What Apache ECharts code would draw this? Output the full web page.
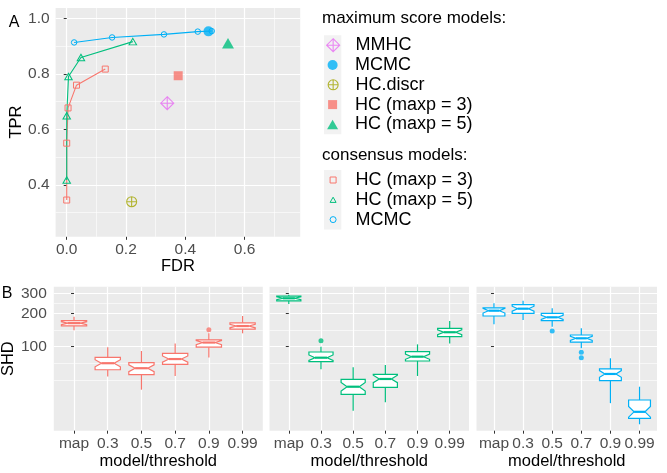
<!DOCTYPE html>
<html><head><meta charset="utf-8">
<script src="https://cdn.jsdelivr.net/npm/echarts@6/dist/echarts.min.js"></script>
<style>html,body{margin:0;padding:0;background:#fff}#c{width:667px;height:473px}</style>
</head><body><div id="c"></div>
<script>
// ---------- Panel A data ----------
const maxNames = ['MMHC', 'MCMC', 'HC.discr', 'HC (maxp = 3)', 'HC (maxp = 5)'];
const maxFDR = [0.339, 0.478, 0.219, 0.376, 0.544];
const maxTPR = [0.694, 0.953, 0.339, 0.793, 0.910];

const consNames = ['HC (maxp = 3)', 'HC (maxp = 5)', 'MCMC'];
const consHC3_FDR = [0, 0, 0.0045, 0.033, 0.130];
const consHC3_TPR = [0.345, 0.550, 0.677, 0.759, 0.817];
const consHC5_FDR = [0, 0, 0.006, 0.048, 0.223];
const consHC5_TPR = [0.417, 0.649, 0.790, 0.859, 0.916];
const consMCMC_FDR = [0.025, 0.153, 0.328, 0.442, 0.489];
const consMCMC_TPR = [0.913, 0.931, 0.942, 0.952, 0.954];

const xTicksA = [0, 0.2, 0.4, 0.6];
const xMinorA = [0.1, 0.3, 0.5, 0.7];
const yTicksA = [0.4, 0.6, 0.8, 1.0];
const yMinorA = [0.3, 0.5, 0.7, 0.9];

// ---------- Panel B data (SHD, log scale) ----------
const thresholds = ['map', '0.3', '0.5', '0.7', '0.9', '0.99'];
// each box: [lower whisker, Q1, median, Q3, upper whisker]
const boxHC3 = [[141,154,163,172,186],[54,62,71,80,99],[41,56,64,72,91.5],[54.5,69.4,77.4,87.2,107],[80,99,109,115,132],[132,144,153.5,164,189]];
const notchHC3 = [[158,168],[66,76.3],[59.6,68.7],[72.5,82.6],[104.5,113.7],[147.9,159.3]];
const outHC3 = [[4,142]];
const boxHC5 = [[242,259,273,286,294],[62.5,73.3,79.6,89.6,100],[26.5,37.2,43.6,50.8,65.2],[31.6,43.0,51.2,56.4,68.4],[54.5,74.3,81.3,90.1,105],[107,123,135,146.5,170]];
const notchHC5 = [[265.3,281],[75.2,84.3],[39.9,47.7],[47.4,55.3],[77,85.9],[128.4,141.9]];
const outHC5 = [[1,113]];
const boxMCMC = [[159,189,211,224,246],[174,200,220,239,259.5],[151,172,184,200,222],[97,110,119,127.4,146.5],[31,49.4,56.8,63,78.6],[20,22.6,25.9,33.1,43.6]];
const notchMCMC = [[201,221.5],[209,231.5],[176.3,192],[114.1,124.1],[53,60.9],[23.2,28.9]];
const outMCMC = [[2,138.5],[3,89],[3,79.6]];
const yTicksB = [100, 200, 300];
const yMinorB = [50, 70.7, 141.4, 245];

// ---------- styling ----------
const FONT = "'Liberation Sans', Arial, Helvetica, sans-serif";
const COL = {'MMHC':'#E76BF3','MCMC':'#00B0F6','HC.discr':'#A3A500','HC (maxp = 3)':'#F8766D','HC (maxp = 5)':'#00BF7D'};
const PANEL = '#EBEBEB';
const TICKCOL = '#333333';
const LABCOL = '#4D4D4D';
const diamondPlus = 'path://M0,-10L10,0L0,10L-10,0Z M0,-10L0,10 M-10,0L10,0';
const circlePlus = 'path://M-10,0A10,10 0 1,1 10,0A10,10 0 1,1 -10,0Z M-10,0L10,0 M0,-10L0,10';
const squareP = 'path://M0,0L10,0L10,10L0,10Z';
const triP = 'path://M5,0L10,8.66L0,8.66Z';
const circP = 'path://M-10,0A10,10 0 1,1 10,0A10,10 0 1,1 -10,0Z';
// [symbol, chart size, open?, legend size]
const maxSymbols = {'MMHC':[diamondPlus,[13,13],true,13],'MCMC':[circP,[10,10],false,10],'HC.discr':[circlePlus,[10,10],true,10],
  'HC (maxp = 3)':[squareP,[9,9],false,9],'HC (maxp = 5)':[triP,[12,10.4],false,11]};
const consSymbols = [[squareP,[6,6]],[triP,[7.5,6.5]],[circP,[5.5,5.5]]];
const consIds = ['cons_HC3','cons_HC5','cons_MCMC'];
const consData = [[consHC3_FDR,consHC3_TPR],[consHC5_FDR,consHC5_TPR],[consMCMC_FDR,consMCMC_TPR]];

const grids = [
  {left:55.6, top:7.9, width:244.6, height:228.9},
  {left:53.8, top:286.7, width:209, height:144},
  {left:269.5, top:286.7, width:199.5, height:144},
  {left:476.5, top:286.7, width:180.5, height:144}
].map(g => Object.assign({show:true, backgroundColor:PANEL, borderWidth:0, containLabel:false}, g));

const xAxes = [], yAxes = [], series = [];

// Panel A axes
xAxes.push({gridIndex:0, type:'value', min:-0.0375, max:0.7875, axisLine:{show:false},
  axisTick:{show:true, customValues:xTicksA, length:3, lineStyle:{color:TICKCOL, width:1}},
  axisLabel:{customValues:xTicksA, color:LABCOL, fontSize:15.5, fontFamily:FONT, margin:4.5, formatter:v=>v.toFixed(1)},
  splitLine:{show:true, lineStyle:{color:'#fff', width:1.2}}});
xAxes.push({gridIndex:0, type:'value', min:-0.0375, max:0.7875, axisLine:{show:false},
  axisTick:{show:false, customValues:xMinorA}, axisLabel:{show:false},
  splitLine:{show:true, lineStyle:{color:'#fff', width:0.6}}});
yAxes.push({gridIndex:0, type:'value', min:0.2125, max:1.0375, axisLine:{show:false},
  axisTick:{show:true, customValues:yTicksA, length:3, lineStyle:{color:TICKCOL, width:1}},
  axisLabel:{customValues:yTicksA, color:LABCOL, fontSize:15.5, fontFamily:FONT, margin:6, formatter:v=>v.toFixed(1)},
  splitLine:{show:true, lineStyle:{color:'#fff', width:1.2}}});
yAxes.push({gridIndex:0, type:'value', min:0.2125, max:1.0375, axisLine:{show:false},
  axisTick:{show:false, customValues:yMinorA}, axisLabel:{show:false},
  splitLine:{show:true, lineStyle:{color:'#fff', width:0.6}}});

// Panel A series: consensus lines
consIds.forEach((id, k) => {
  const c = COL[consNames[k]];
  const d = consData[k][0].map((x, i) => [x, consData[k][1][i]]);
  series.push({type:'line', name:id, xAxisIndex:0, yAxisIndex:0, data:d,
    symbol:consSymbols[k][0], symbolSize:consSymbols[k][1], showAllSymbol:true,
    lineStyle:{color:c, width:1.1}, itemStyle:{color:'rgba(0,0,0,0)', borderColor:c, borderWidth:1},
    emphasis:{disabled:true}, z:3});
});
// Panel A series: maximum score models
maxNames.forEach((n, i) => {
  const c = COL[n], s = maxSymbols[n];
  series.push({type:'scatter', name:n, xAxisIndex:0, yAxisIndex:0, data:[[maxFDR[i], maxTPR[i]]],
    symbol:s[0], symbolSize:s[1],
    itemStyle: s[2] ? {color:'rgba(0,0,0,0)', borderColor:c, borderWidth:1.1} : {color:c},
    emphasis:{disabled:true}, z:4});
});

// Panel B
const facetBoxes = [boxHC3, boxHC5, boxMCMC];
const facetNotch = [notchHC3, notchHC5, notchMCMC];
const facetOut = [outHC3, outHC5, outMCMC];
const facetCol = [COL['HC (maxp = 3)'], COL['HC (maxp = 5)'], COL['MCMC']];
const xIdx = thresholds.map((t, i) => i);

function renderBox(color) {
  return function (params, api) {
    const x = api.value(0);
    const lo = api.value(1), q1 = api.value(2), md = api.value(3), q3 = api.value(4), hi = api.value(5);
    const nl = api.value(6), nh = api.value(7);
    const pL = api.coord([x - 0.375, md]), pR = api.coord([x + 0.375, md]);
    const cx = (pL[0] + pR[0]) / 2, w = (pR[0] - pL[0]) / 2;
    const y = v => api.coord([x, v])[1];
    const yq1 = y(q1), yq3 = y(q3), ymd = y(md), ynl = y(nl), ynh = y(nh), ylo = y(lo), yhi = y(hi);
    const pts = [[cx-w,yq3],[cx+w,yq3],[cx+w,ynh],[cx+w/2,ymd],[cx+w,ynl],[cx+w,yq1],[cx-w,yq1],[cx-w,ynl],[cx-w/2,ymd],[cx-w,ynh]];
    return {type:'group', children:[
      {type:'line', shape:{x1:cx, y1:yhi, x2:cx, y2:yq3}, style:{stroke:color, lineWidth:1.2}},
      {type:'line', shape:{x1:cx, y1:yq1, x2:cx, y2:ylo}, style:{stroke:color, lineWidth:1.2}},
      {type:'polygon', shape:{points:pts}, style:{fill:'#fff', stroke:color, lineWidth:1.2}},
      {type:'line', shape:{x1:cx-w/2, y1:ymd, x2:cx+w/2, y2:ymd}, style:{stroke:color, lineWidth:2.2}}
    ]};
  };
}

for (let f = 0; f < 3; f++) {
  const g = f + 1;
  xAxes.push({gridIndex:g, type:'value', min:-0.6, max:5.6, axisLine:{show:false},
    axisTick:{show:true, customValues:xIdx, length:3, lineStyle:{color:TICKCOL, width:1}},
    axisLabel:{customValues:xIdx, color:LABCOL, fontSize:15.5, fontFamily:FONT, margin:5, formatter:v=>thresholds[Math.round(v)]},
    splitLine:{show:true, lineStyle:{color:'#fff', width:1.2}}});
  yAxes.push({gridIndex:g, type:'log', logBase:10, min:17.51, max:347.1, axisLine:{show:false},
    axisTick:{show:true, customValues:yTicksB, length:3, lineStyle:{color:TICKCOL, width:1}},
    axisLabel:{show:f === 0, customValues:yTicksB, color:LABCOL, fontSize:15.5, fontFamily:FONT, margin:7},
    splitLine:{show:true, lineStyle:{color:'#fff', width:1.2}}});
  yAxes.push({gridIndex:g, type:'log', logBase:10, min:17.51, max:347.1, axisLine:{show:false},
    axisTick:{show:false, customValues:yMinorB}, axisLabel:{show:false},
    splitLine:{show:true, lineStyle:{color:'#fff', width:0.6}}});
  const xi = 2 + f, yi = 2 + 2 * f;
  const data = facetBoxes[f].map((b, i) => [i, b[0], b[1], b[2], b[3], b[4], facetNotch[f][i][0], facetNotch[f][i][1]]);
  series.push({type:'custom', xAxisIndex:xi, yAxisIndex:yi, data:data, renderItem:renderBox(facetCol[f]),
    encode:{x:0, y:[1,2,3,4,5]}, silent:true, z:3});
  series.push({type:'scatter', xAxisIndex:xi, yAxisIndex:yi, data:facetOut[f], symbol:'circle', symbolSize:5,
    itemStyle:{color:facetCol[f]}, silent:true, z:4});
}

// Legends: icon centred at KEYX, text starting at TEXTX
const KEYX = 332.6, TEXTX = 355;
const legendLabel = {'cons_HC3':'HC (maxp = 3)','cons_HC5':'HC (maxp = 5)','cons_MCMC':'MCMC'};
function legendTextStyle(size) {
  return {fontSize:18, lineHeight:19.8, color:'#000', fontFamily:FONT, padding:[0, 0, 0, TEXTX - (KEYX + size / 2 + 5)]};
}
const legends = [];
maxNames.forEach((n, i) => {
  const s = maxSymbols[n], c = COL[n], sz = s[3];
  legends.push({orient:'vertical', left:KEYX - sz / 2, top:35.3 + i * 19.8, padding:0, itemGap:0, itemWidth:sz, itemHeight:sz,
    symbolKeepAspect:true, selectedMode:false, textStyle:legendTextStyle(sz),
    data:[{name:n, icon:s[0], itemStyle: s[2] ? {color:'rgba(0,0,0,0)', borderColor:c, borderWidth:1.1} : {color:c, borderWidth:0}}]});
});
legends.push({orient:'vertical', left:KEYX - 3, top:170.1, padding:0, itemGap:0, itemWidth:6, itemHeight:6, symbolKeepAspect:true,
   selectedMode:false, textStyle:legendTextStyle(6), formatter:n => legendLabel[n] || n,
   data: consIds.map((id, k) => {
     const c = COL[consNames[k]];
     return {name:id, icon:consSymbols[k][0], itemStyle:{color:'rgba(0,0,0,0)', borderColor:c, borderWidth:1}};
   })});

function txt(text, x, y, size, opts) {
  return Object.assign({type:'text', x:x, y:y, silent:true,
    style:{text:text, fontSize:size, fontFamily:FONT, fill:'#000', align:'center', verticalAlign:'middle'}}, opts || {});
}
const graphics = [
  {type:'rect', shape:{x:324, y:35.3, width:17.3, height:99}, style:{fill:'#F2F2F2'}, silent:true, z:-1},
  {type:'rect', shape:{x:324, y:170.1, width:17.3, height:59.4}, style:{fill:'#F2F2F2'}, silent:true, z:-1},
  txt('A', 14, 23, 16),
  txt('B', 7, 294, 16),
  txt('TPR', 16.7, 122, 16.5, {rotation:Math.PI/2}),
  txt('FDR', 178, 266, 16.5),
  txt('SHD', 8.3, 358.7, 16.5, {rotation:Math.PI/2}),
  txt('model/threshold', 158.3, 461.7, 16.5),
  txt('model/threshold', 369.3, 461.7, 16.5),
  txt('model/threshold', 566.8, 461.7, 16.5),
  {type:'text', x:322, y:18, silent:true, style:{text:'maximum score models:', fontSize:17, fontFamily:FONT, fill:'#000', align:'left', verticalAlign:'middle'}},
  {type:'text', x:322, y:155, silent:true, style:{text:'consensus models:', fontSize:17, fontFamily:FONT, fill:'#000', align:'left', verticalAlign:'middle'}}
];

const chart = echarts.init(document.getElementById('c'), null, {renderer:'canvas'});
chart.setOption({
  animation:false,
  backgroundColor:'#fff',
  grid:grids, xAxis:xAxes, yAxis:yAxes, series:series,
  legend:legends, graphic:graphics, tooltip:{show:false}
});
</script></body></html>
